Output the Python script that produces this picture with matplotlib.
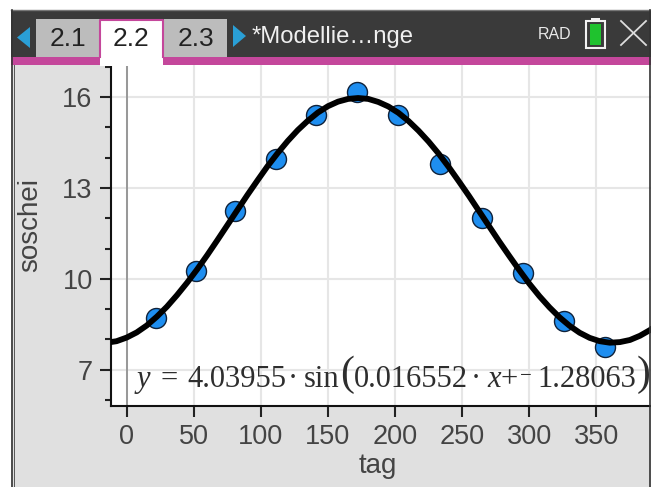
import matplotlib
matplotlib.use("Agg")
import matplotlib.pyplot as plt
from matplotlib.patches import Rectangle, Polygon
from matplotlib.ticker import MultipleLocator

W, H = 651, 487
SANS = "Liberation Sans"
SERIF = "Liberation Serif"

# Data
tag = [22, 51.7, 80.8, 111, 141, 172, 202, 233.5, 265, 295, 326, 356.5]
soschei = [8.72, 10.27, 12.23, 13.95, 15.4, 16.17, 15.4, 13.8, 12.0, 10.2, 8.62, 7.75]
curve_x = [-15, -7.5, 0, 7.5, 15, 22.5, 30, 37.5, 45, 52.5, 60, 67.5, 75, 82.5, 90, 97.5,
           105, 112.5, 120, 127.5, 135, 142.5, 150, 157.5, 165, 172.5, 180, 187.5, 195,
           202.5, 210, 217.5, 225, 232.5, 240, 247.5, 255, 262.5, 270, 277.5, 285, 292.5,
           300, 307.5, 315, 322.5, 330, 337.5, 345, 352.5, 360, 367.5, 375, 382.5, 390, 397.5]
curve_y = [7.89, 7.94, 8.06, 8.23, 8.46, 8.75, 9.08, 9.46, 9.87, 10.31, 10.78, 11.27,
           11.77, 12.27, 12.77, 13.25, 13.72, 14.15, 14.55, 14.91, 15.22, 15.49, 15.70,
           15.85, 15.94, 15.97, 15.94, 15.84, 15.69, 15.48, 15.21, 14.89, 14.53, 14.13,
           13.69, 13.22, 12.74, 12.24, 11.74, 11.24, 10.76, 10.29, 9.84, 9.43, 9.06, 8.73,
           8.45, 8.22, 8.05, 7.94, 7.89, 7.91, 7.98, 8.12, 8.31, 8.57]
x_ticks = [0, 50, 100, 150, 200, 250, 300, 350]
y_ticks = [7, 10, 13, 16]
tabs = ["2.1", "2.2", "2.3"]
title = "*Modellie…nge"
status = "RAD"

fig = plt.figure(figsize=(W / 100, H / 100), dpi=100, facecolor="white")

# background layer in pixel coordinates
bg = fig.add_axes([0, 0, 1, 1], zorder=0)
bg.set_xlim(0, W); bg.set_ylim(H, 0); bg.axis("off")
bg.add_patch(Rectangle((11, 65), 640, 422, fc="#e0e0e0", ec="none"))

# chart
L, R, T, B = 110.7, 651, 65, 405.7
ax = fig.add_axes([L / W, 1 - B / H, (R - L) / W, (B - T) / H], zorder=1)
ax.set_facecolor("white")
ax.set_xlim(-11.9, 390.7)
ax.set_ylim(5.81, 17.06)
ax.set_xticks(x_ticks)
ax.set_yticks(y_ticks)
ax.yaxis.set_minor_locator(MultipleLocator(1))
ax.grid(True, which="major", color="#e6e6e6", lw=1.5)
ax.set_axisbelow(True)
ax.axvline(0, color="#8a8a8a", lw=1.2, zorder=1)
for s in ("top", "right"):
    ax.spines[s].set_visible(False)
for s in ("left", "bottom"):
    ax.spines[s].set_linewidth(1.5)
    ax.spines[s].set_color("#111111")
ax.tick_params(axis="both", which="major", length=8, width=1.5, color="#222222",
               labelsize=19.5, labelcolor="#444444", pad=5)
ax.tick_params(axis="y", which="minor", length=4.5, width=1.5, color="#222222")
for lab in ax.get_xticklabels() + ax.get_yticklabels():
    lab.set_fontfamily(SANS)

ax.scatter(tag, soschei, s=(20 * 0.72) ** 2, c="#1e8ef0", edgecolors="#10223a",
           linewidths=1.0, zorder=3, clip_on=False)
ax.plot(curve_x, curve_y, color="black", lw=4.2, zorder=4,
        solid_joinstyle="round", solid_capstyle="round")

# overlay layer in pixel coordinates
ov = fig.add_axes([0, 0, 1, 1], zorder=2)
ov.set_xlim(0, W); ov.set_ylim(H, 0); ov.axis("off"); ov.patch.set_alpha(0)

# axis titles
ov.text(30, 225, "soschei", family=SANS, fontsize=20, color="#444444",
        rotation=90, ha="center", va="center")
ov.text(378, 466, "tag", family=SANS, fontsize=20, color="#444444",
        ha="center", va="center")

# equation, placed piece by piece
EQ = "#2e2e2e"
def eq(x, s, style="normal", size=22, y=387):
    ov.text(x, y, s, family=SERIF, fontsize=size, style=style, color=EQ,
            ha="left", va="baseline")
eq(137, "y", "italic")
eq(161, "=")
eq(187, "4.03955")
eq(288, "·")
eq(304, "sin")
eq(340, "(", size=30, y=385)
eq(354, "0.016552")
eq(471, "·")
eq(487, "x", "italic")
eq(501, "+")
eq(520, "−", size=15, y=381)
eq(537, "1.28063")
eq(637, ")", size=30, y=385)

# header
ov.add_patch(Rectangle((11, 10), 640, 47, fc="#3a3a3a", ec="none"))
ov.plot([11, 651], [10, 10], color="#777777", lw=1)
ov.add_patch(Rectangle((11, 57), 640, 8, fc="#c4479b", ec="none"))
ov.add_patch(Rectangle((36, 19), 64, 38, fc="#bcbcbc", ec="none"))
ov.add_patch(Rectangle((164, 19), 63, 38, fc="#bcbcbc", ec="none"))
ov.add_patch(Rectangle((100, 19), 63, 47, fc="white", ec="none"))
ov.plot([100, 100, 163, 163], [57, 20, 20, 57], color="#c4479b", lw=1.5)
for cx, lab in zip([68, 131, 196], tabs):
    ov.text(cx, 39, lab, family=SANS, fontsize=19, color="#222222",
            ha="center", va="center")
ov.add_patch(Polygon([(30, 27), (30, 48), (17, 37.5)], fc="#2a9fd6", ec="none"))
ov.add_patch(Polygon([(233, 25), (233, 47), (246, 36)], fc="#2a9fd6", ec="none"))
ov.text(252, 43, title, family=SANS, fontsize=17.2, color="#f0f0f0", ha="left", va="baseline")
ov.text(555, 34.5, status, family=SANS, fontsize=11.5, color="#e8e8e8", ha="center", va="center")
ov.add_patch(Rectangle((586, 21), 19, 27, fc="#3a3a3a", ec="#f2f2f2", lw=1.5))
ov.add_patch(Rectangle((591, 18), 9, 3, fc="#f2f2f2", ec="none"))
ov.add_patch(Rectangle((590, 24), 11, 21, fc="#1fc22e", ec="none"))
ov.plot([621, 646], [21, 45], color="#dddddd", lw=1.3)
ov.plot([621, 646], [45, 21], color="#dddddd", lw=1.3)

# outer frame
ov.plot([11.5, 11.5], [10, 487], color="#333333", lw=1.2)
ov.plot([14, 14], [65, 487], color="#555555", lw=0.7)
ov.plot([650, 650], [10, 487], color="#333333", lw=1.2)

fig.savefig("out.png", dpi=100)
